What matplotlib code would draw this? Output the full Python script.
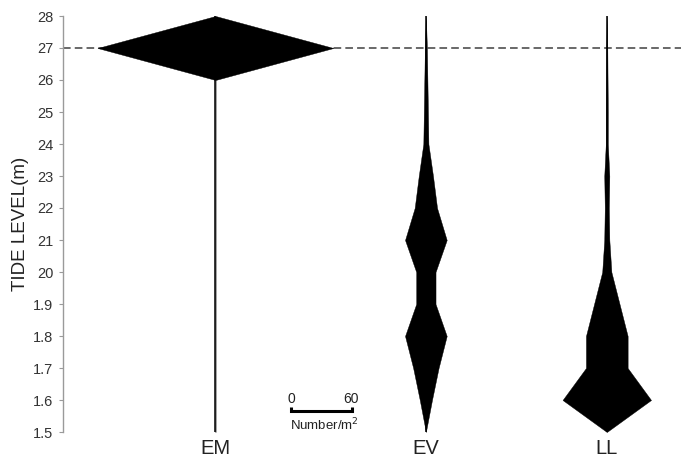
#!/usr/bin/env python3
"""
plot.py  --  kite diagram: density per tide level (EM, EV, LL)
Output: out.png (681x459)
"""

import matplotlib
matplotlib.use('Agg')
import matplotlib.pyplot as plt

plt.rcParams['font.family'] = ['Liberation Sans', 'DejaVu Sans']

# ------------------------------------------------------------------------------
# Data (full kite width = Number/m^2)
# ------------------------------------------------------------------------------
levels      = [1.5, 1.6, 1.7, 1.8, 1.9, 2.0, 2.1, 2.2, 2.3, 2.4, 2.5, 2.6, 2.7, 2.8]
tick_labels = ['1.5', '1.6', '1.7', '1.8', '1.9', '20', '21', '22', '23',
               '24', '25', '26', '27', '28']

species  = ['EM', 'EV', 'LL']
em_dens  = [0, 0, 0, 0, 0, 0, 0, 0, 0, 0, 0, 0, 232, 0]
ev_dens  = [0, 12, 25, 41, 19, 19, 41, 22, 14, 5, 4, 3, 2, 0]
ll_dens  = [0, 87, 41, 41, 25, 9, 5, 4, 5, 2, 2, 1.5, 1, 0]

centers  = [150, 357, 535]     # kite axis position, in Number/m^2 units
X_MAX    = 608
MEAN_LVL = 2.7                 # dashed reference line
SCALE_X0 = 224                 # scale bar start
SCALE_LEN = 60

# ------------------------------------------------------------------------------
# Figure
# ------------------------------------------------------------------------------
W, H = 681, 459
fig = plt.figure(figsize=(W / 100, H / 100), dpi=100)
ax = fig.add_axes([63 / W, 27 / H, 618 / W, 416 / H])

for name, cx, dens in zip(species, centers, [em_dens, ev_dens, ll_dens]):
    left  = [cx - d / 2 for d in dens]
    right = [cx + d / 2 for d in dens]
    ax.plot([cx, cx], [levels[0], levels[-1]], color='black', lw=1.1,
            zorder=2)
    ax.fill_betweenx(levels, left, right, color='black', lw=0.3,
                     edgecolor='black', zorder=3)
    ax.annotate(name, (cx, levels[0]), xytext=(0, -5),
                textcoords='offset points', ha='center', va='top',
                fontsize=14.5, color='#222222', annotation_clip=False)

ax.axhline(MEAN_LVL, color='#404040', lw=1.1, ls=(0, (5, 2.7)), zorder=1)

# scale bar
sy = 1.566
ax.plot([SCALE_X0, SCALE_X0, SCALE_X0 + SCALE_LEN, SCALE_X0 + SCALE_LEN],
        [sy + 0.012, sy, sy, sy + 0.012], color='black', lw=2.2,
        solid_capstyle='butt', solid_joinstyle='miter', clip_on=False)
ax.text(SCALE_X0 + 1, sy + 0.016, '0', ha='center', va='bottom',
        fontsize=10, color='#222222')
ax.text(SCALE_X0 + SCALE_LEN - 1, sy + 0.016, '60', ha='center',
        va='bottom', fontsize=10, color='#222222')
ax.text(SCALE_X0 - 1, sy - 0.018, 'Number/m$^2$', ha='left', va='top',
        fontsize=9.5, color='#222222')

# axes styling
ax.set_xlim(0, X_MAX)
ax.set_ylim(levels[0], levels[-1])
ax.set_yticks(levels)
ax.set_yticklabels(tick_labels)
ax.set_xticks([])
for side in ['top', 'right', 'bottom']:
    ax.spines[side].set_visible(False)
ax.spines['left'].set_color('#9a9a9a')
ax.spines['left'].set_linewidth(1.0)
ax.tick_params(axis='y', length=3, width=0.8, color='#9a9a9a',
               labelsize=10.5, labelcolor='#333333', pad=4)
ax.set_ylabel('TIDE LEVEL(m)', fontsize=13.5, color='#222222', labelpad=3)

fig.savefig('out.png', dpi=100)
plt.close(fig)
